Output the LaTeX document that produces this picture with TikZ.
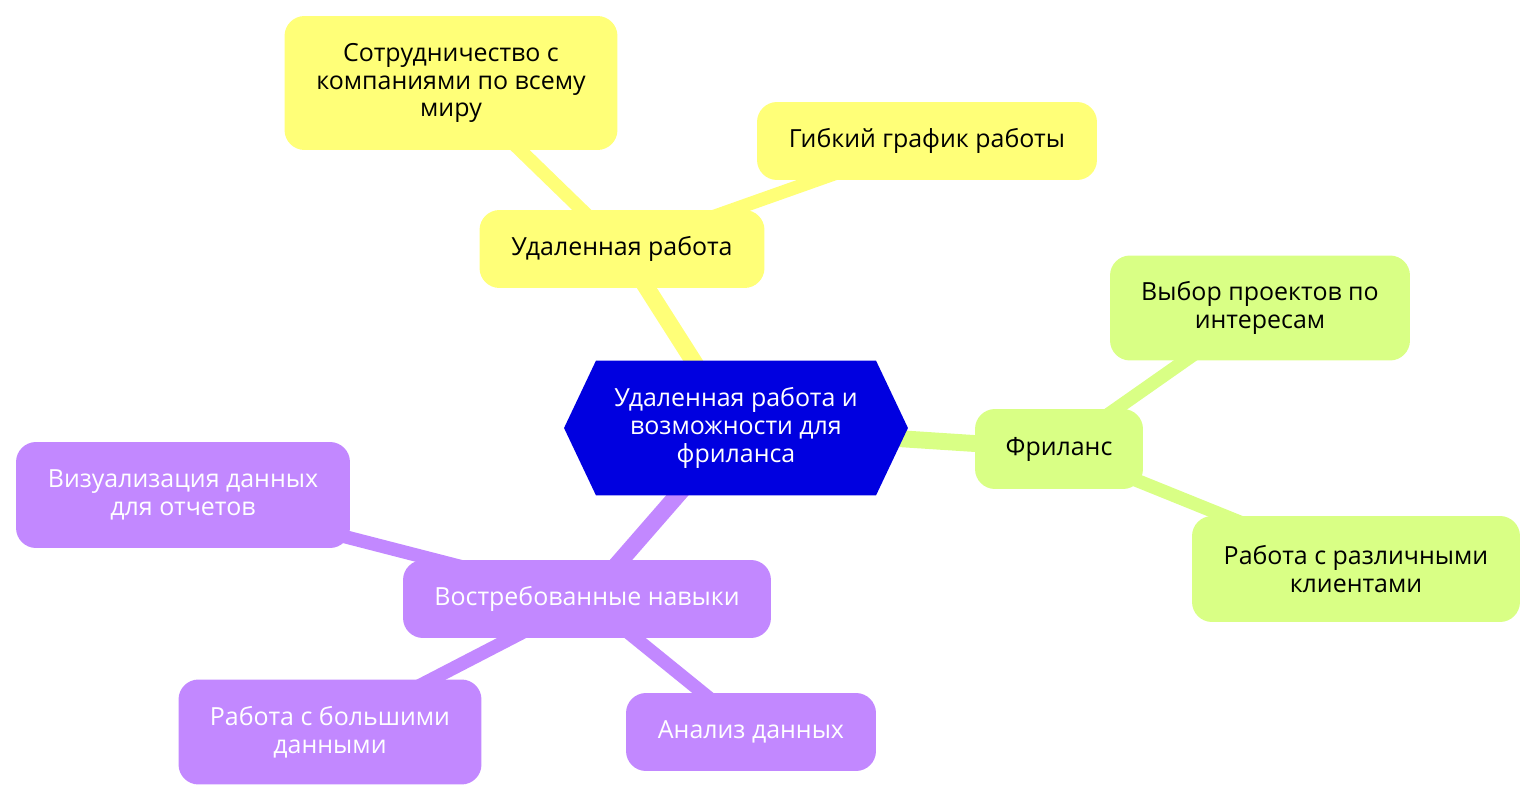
\documentclass[tikz,border=0pt]{standalone}
\usepackage{fontspec}
\setmainfont{Open Sans}
\usetikzlibrary{positioning}

\definecolor{rootblue}{HTML}{0000E0}
\definecolor{remoteyellow}{HTML}{FFFF78}
\definecolor{freegreen}{HTML}{D9FF85}
\definecolor{skillpurple}{HTML}{C288FF}

\pgfdeclarelayer{edges}
\pgfsetlayers{edges,main}

\begin{document}
\begin{tikzpicture}[
	x=0.02cm, y=-0.02cm,
	every node/.style={font=\fontsize{14.2}{15.8}\selectfont, align=center, inner sep=0pt},
	topic/.style={rounded corners=0.4cm, fill=#1, minimum height=1.56cm},
	darktext/.style={text=black},
	lighttext/.style={text=white},
	trunk/.style={line width=9.6pt, draw=#1},
	twig/.style={line width=7.6pt, draw=#1}
	]
	\useasboundingbox (0,0) rectangle (1536,801);

	% Root
	\node[minimum width=6.88cm, minimum height=2.7cm, lighttext,
		path picture={\fill[rootblue]
			(path picture bounding box.west)
			-- ([xshift=0.64cm]path picture bounding box.north west)
			-- ([xshift=-0.64cm]path picture bounding box.north east)
			-- (path picture bounding box.east)
			-- ([xshift=-0.64cm]path picture bounding box.south east)
			-- ([xshift=0.64cm]path picture bounding box.south west)
			-- cycle;}] (root) at (736,428)
		{Удаленная работа и\\возможности для\\фриланса};

	% Remote work
	\node[topic=remoteyellow, darktext, minimum width=5.7cm] (remote) at (622,249) {Удаленная работа};
	\node[topic=remoteyellow, darktext, minimum width=6.66cm, minimum height=2.68cm] (world) at (451,83)
		{Сотрудничество с\\компаниями по всему\\миру};
	\node[topic=remoteyellow, darktext, minimum width=6.8cm] (flex) at (927,141) {Гибкий график работы};

	% Freelance
	\node[topic=freegreen, darktext, minimum width=3.36cm, minimum height=1.6cm] (freelance) at (1059,449) {Фриланс};
	\node[topic=freegreen, darktext, minimum width=6cm, minimum height=2.1cm] (choice) at (1260,308)
		{Выбор проектов по\\интересам};
	\node[topic=freegreen, darktext, minimum width=6.56cm, minimum height=2.12cm] (clients) at (1356,569)
		{Работа с различными\\клиентами};

	% Skills
	\node[topic=skillpurple, lighttext, minimum width=7.36cm] (skills) at (587,599) {Востребованные навыки};
	\node[topic=skillpurple, lighttext, minimum width=6.68cm, minimum height=2.12cm] (viz) at (183,495)
		{Визуализация данных\\для отчетов};
	\node[topic=skillpurple, lighttext, minimum width=6.06cm, minimum height=2.1cm] (bigdata) at (330,732)
		{Работа с большими\\данными};
	\node[topic=skillpurple, lighttext, minimum width=5cm] (analysis) at (751,732) {Анализ данных};

	% Edges
	\begin{pgfonlayer}{edges}
		\draw[trunk=remoteyellow] (root.center) -- (remote.center);
		\draw[twig=remoteyellow] (remote.center) -- (world.center);
		\draw[twig=remoteyellow] (remote.center) -- (flex.center);
		\draw[trunk=freegreen] (root.center) -- (freelance.center);
		\draw[twig=freegreen] (freelance.center) -- (choice.center);
		\draw[twig=freegreen] (freelance.center) -- (clients.center);
		\draw[trunk=skillpurple] (root.center) -- (skills.center);
		\draw[twig=skillpurple] (skills.center) -- (viz.center);
		\draw[twig=skillpurple] (skills.center) -- (bigdata.center);
		\draw[twig=skillpurple] (skills.center) -- (analysis.center);
	\end{pgfonlayer}
\end{tikzpicture}
\end{document}
